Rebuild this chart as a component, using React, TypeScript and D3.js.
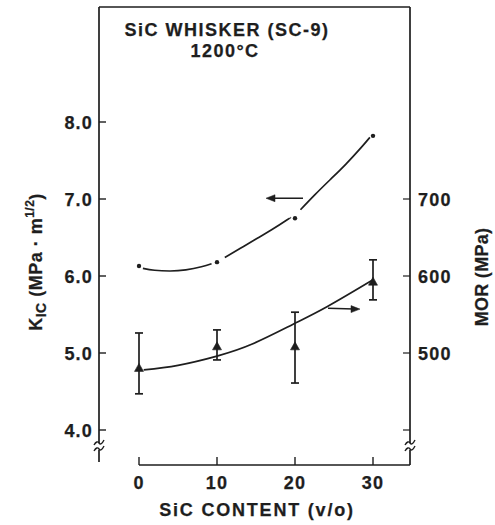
import React from "react";
import * as d3 from "d3";

// SiC whisker content (v/o)
const content = [0, 10, 20, 30];
// Fracture toughness K_IC (MPa·m^1/2)
const kic = [6.13, 6.18, 6.75, 7.82];
// Modulus of rupture (MPa) with error-bar limits
const mor = [480, 508, 508, 592];
const morHigh = [526, 530, 553, 621];
const morLow = [447, 491, 461, 569];

// Smooth trend lines
const kicFitX = [0.5, 2, 4, 6, 8, 9.3];
const kicFitY = [6.1, 6.075, 6.065, 6.08, 6.12, 6.16];
const kicFit2X = [11, 13, 15, 17, 19, 19.4];
const kicFit2Y = [6.24, 6.36, 6.48, 6.6, 6.73, 6.76];
const kicFit3X = [20.7, 22.5, 24.5, 26.5, 28.5, 29.6];
const kicFit3Y = [6.86, 7.05, 7.25, 7.45, 7.67, 7.8];
const morFitX = [0.6, 5, 10, 14.6, 19.7, 24.1, 30];
const morFitY = [478, 484, 496, 512, 537, 560, 595];

const xTicks = [0, 10, 20, 30];
const kTicks = [4, 5, 6, 7, 8];
const mTicks = [400, 500, 600, 700];

const ink = "#1e1e1e";
const font = "'Liberation Sans', Arial, Helvetica, sans-serif";

const textStyle = {
  fontFamily: font,
  fontWeight: "bold" as const,
  fontSize: 18,
  fill: ink,
  stroke: ink,
  strokeWidth: 0.25,
};

export default function App() {
  const x = d3.scaleLinear().domain([0, 30]).range([139, 373]);
  const yK = d3.scaleLinear().domain([4, 8]).range([430, 122]);
  const yM = d3.scaleLinear().domain([400, 800]).range([430, 122]);

  const axL = 99;
  const axR = 410;
  const top = 7;
  const bottom = 465;

  const mkPath = (xs: number[], ys: number[], ys2: (v: number) => number) =>
    d3
      .line<number>()
      .x((_, i) => x(xs[i]))
      .y((_, i) => ys2(ys[i]))
      .curve(d3.curveNatural)(xs) as string;

  const breakMark = (cx: number, cy: number) => (
    <g>
      <path
        d={`M${cx - 5},${cy + 1} q3,-5 5,-2 q2,3 5,-3`}
        fill="none"
        stroke={ink}
        strokeWidth={1.4}
      />
      <path
        d={`M${cx - 5},${cy + 7} q3,-5 5,-2 q2,3 5,-3`}
        fill="none"
        stroke={ink}
        strokeWidth={1.4}
      />
    </g>
  );

  return (
    <svg
      width={495}
      height={525}
      style={{ position: "absolute", left: 0, top: 0, background: "#fff" }}
    >
      {/* Frame: left axis, top edge, right axis, bottom axis */}
      <g stroke={ink} strokeWidth={1.7} fill="none">
        <line x1={axL} y1={top} x2={axL} y2={443} />
        <line x1={axL} y1={450} x2={axL} y2={462} />
        <line x1={axL} y1={top} x2={axR} y2={top} />
        <line x1={axR} y1={top} x2={axR} y2={443} />
        <line x1={axR} y1={450} x2={axR} y2={bottom} />
        <line x1={x(0)} y1={bottom} x2={axR} y2={bottom} />
      </g>
      {breakMark(axL, 444)}
      {breakMark(axR, 444)}

      {/* Left axis ticks and labels */}
      {kTicks.map((t) => (
        <g key={`k${t}`}>
          <line x1={axL} x2={axL + 7} y1={yK(t)} y2={yK(t)} stroke={ink} strokeWidth={1.4} />
          <text
            x={axL - 6}
            y={yK(t) + 6.5}
            textAnchor="end"
            letterSpacing={1.2}
            {...textStyle}
          >
            {t.toFixed(1)}
          </text>
        </g>
      ))}

      {/* Right axis ticks and labels */}
      {mTicks.map((t) => (
        <g key={`m${t}`}>
          <line x1={axR - 7} x2={axR} y1={yM(t)} y2={yM(t)} stroke={ink} strokeWidth={1.2} />
          {t > 400 && (
            <text x={axR + 8} y={yM(t) + 6.5} letterSpacing={1.2} {...textStyle}>
              {t}
            </text>
          )}
        </g>
      ))}

      {/* Bottom axis ticks and labels */}
      {xTicks.map((t) => (
        <g key={`x${t}`}>
          <line x1={x(t)} x2={x(t)} y1={bottom} y2={bottom - 8} stroke={ink} strokeWidth={1.4} />
          <text x={x(t)} y={489} textAnchor="middle" letterSpacing={1.2} {...textStyle}>
            {t}
          </text>
        </g>
      ))}

      {/* Axis titles */}
      <text x={257} y={516} textAnchor="middle" letterSpacing={1.8} {...textStyle}>
        SiC CONTENT (v/o)
      </text>
      <text
        transform="translate(42,262) rotate(-90)"
        textAnchor="middle"
        letterSpacing={0.5}
        {...textStyle}
      >
        K
        <tspan fontSize={14} dy={4}>IC</tspan>
        <tspan dy={-4}> (MPa · m</tspan>
        <tspan fontSize={12} dy={-8}>1/2</tspan>
        <tspan dy={8}>)</tspan>
      </text>
      <text
        transform="translate(488,277) rotate(-90)"
        textAnchor="middle"
        letterSpacing={0.3}
        {...textStyle}
      >
        MOR (MPa)
      </text>

      {/* Title */}
      <text x={227} y={36} textAnchor="middle" letterSpacing={1.5} {...textStyle}>
        SiC WHISKER (SC-9)
      </text>
      <text x={225} y={57} textAnchor="middle" letterSpacing={1.5} {...textStyle}>
        1200°C
      </text>

      {/* Trend curves (K_IC broken around its markers) */}
      <g fill="none" stroke={ink} strokeWidth={1.7}>
        <path d={mkPath(kicFitX, kicFitY, yK)} />
        <path d={mkPath(kicFit2X, kicFit2Y, yK)} />
        <path d={mkPath(kicFit3X, kicFit3Y, yK)} />
        <path d={mkPath(morFitX, morFitY, yM)} />
      </g>

      {/* K_IC points */}
      {content.map((c, i) => (
        <circle key={`kp${i}`} cx={x(c)} cy={yK(kic[i])} r={2.2} fill={ink} />
      ))}

      {/* MOR points with error bars */}
      {content.map((c, i) => {
        const cx = x(c);
        const cy = yM(mor[i]);
        return (
          <g key={`mp${i}`} stroke={ink} strokeWidth={1.7}>
            <line x1={cx} x2={cx} y1={yM(morHigh[i])} y2={yM(morLow[i])} />
            <line x1={cx - 4} x2={cx + 4} y1={yM(morHigh[i])} y2={yM(morHigh[i])} />
            <line x1={cx - 4} x2={cx + 4} y1={yM(morLow[i])} y2={yM(morLow[i])} />
            <path
              d={`M${cx},${cy - 5} L${cx + 4.5},${cy + 3} L${cx - 4.5},${cy + 3} Z`}
              fill={ink}
              strokeWidth={0.6}
            />
          </g>
        );
      })}

      {/* Arrows pointing to each series' axis */}
      <g stroke={ink} strokeWidth={1.5} fill={ink}>
        <line x1={271} x2={303} y1={yK(7.01)} y2={yK(7.01)} />
        <path d={`M${266},${yK(7.01)} l9,-3.5 l0,7 Z`} strokeWidth={0.5} />
        <line x1={328} x2={354} y1={yM(558)} y2={yM(557)} />
        <path d={`M${360},${yM(557)} l-9,-3.5 l0,7 Z`} strokeWidth={0.5} />
      </g>
    </svg>
  );
}
